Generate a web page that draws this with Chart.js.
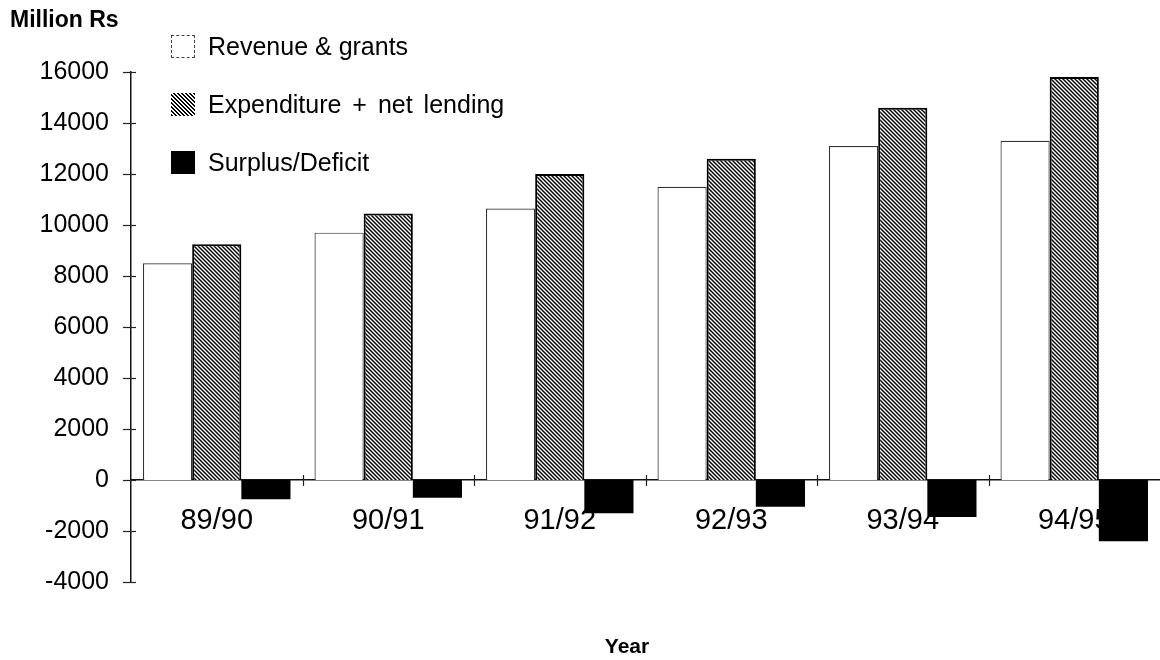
<!DOCTYPE html>
<html>
<head>
<meta charset="utf-8">
<script src="https://cdn.jsdelivr.net/npm/chart.js@4.4.1/dist/chart.umd.min.js"></script>
<style>
  html, body { margin: 0; padding: 0; background: #fff; overflow: hidden; }
  #wrap { position: relative; width: 1160px; height: 660px; }
  #c { position: absolute; left: 0; top: 0; }
  .txt { position: absolute; font-family: "Liberation Sans", Arial, sans-serif; color: #000; white-space: nowrap; }
  #unit { left: 10px; top: 5px; font-weight: bold; font-size: 23px; line-height: 28px; }
  #xtitle { left: 577px; width: 100px; text-align: center; top: 633px; font-weight: bold; font-size: 21px; line-height: 26px; }
  .lg-box { position: absolute; width: 24px; height: 23px; box-sizing: border-box; }
  .lg-txt { position: absolute; font-family: "Liberation Sans", Arial, sans-serif; font-size: 25px; line-height: 30px; white-space: nowrap; color: #000; }
</style>
</head>
<body>
<div id="wrap">
  <canvas id="c" width="1160" height="660"></canvas>
  <div class="txt" id="unit">Million Rs</div>
  <div class="txt" id="xtitle">Year</div>
  <div id="legend"></div>
</div>
<script>
// ---- data ----
const categories = ['89/90', '90/91', '91/92', '92/93', '93/94', '94/95'];
const revenueGrants = [8500, 9700, 10650, 11500, 13100, 13300];
const expenditureNetLending = [9250, 10450, 12000, 12600, 14600, 15800];
const surplusDeficit = [-750, -700, -1300, -1050, -1450, -2400];
const seriesNames = ['Revenue & grants', 'Expenditure + net lending', 'Surplus/Deficit'];
const yMin = -4000;
const yMax = 16000;
const yStep = 2000;

// ---- hatch pattern ----
function makeHatch() {
  const s = 4;
  const p = document.createElement('canvas');
  p.width = s; p.height = s;
  const g = p.getContext('2d');
  g.fillStyle = '#fff';
  g.fillRect(0, 0, s, s);
  g.strokeStyle = '#000';
  g.lineWidth = 1.45;
  for (let k = -1; k <= 1; k++) {
    g.beginPath();
    g.moveTo(-1, k * s - 1);
    g.lineTo(s + 1, s + k * s + 1);
    g.stroke();
  }
  return document.getElementById('c').getContext('2d').createPattern(p, 'repeat');
}
const hatch = makeHatch();

// ---- legend (HTML) ----
const legendStyles = [
  'background:#fff;border:1px dashed #444;',
  'background:repeating-linear-gradient(45deg,#000 0 1.45px,#fff 1.45px 2.85px);',
  'background:#000;'
];
const legendWordSpacing = [0, 4, 0];
const legendRowY = [46, 104, 162];
const lg = document.getElementById('legend');
seriesNames.forEach((name, i) => {
  const b = document.createElement('div');
  b.className = 'lg-box';
  b.style.cssText += 'left:171px;top:' + (legendRowY[i] - 11.5) + 'px;' + legendStyles[i];
  lg.appendChild(b);
  const t = document.createElement('div');
  t.className = 'lg-txt';
  t.style.left = '208px';
  t.style.top = (legendRowY[i] - 15) + 'px';
  t.style.wordSpacing = legendWordSpacing[i] + 'px';
  t.textContent = name;
  lg.appendChild(t);
});

// ---- crossing tick marks plugin ----
const crossTicks = {
  id: 'crossTicks',
  afterDraw(chart) {
    const ctx = chart.ctx;
    const x = chart.scales.x, y = chart.scales.y;
    ctx.save();
    ctx.strokeStyle = '#222';
    ctx.lineWidth = 1.2;
    y.ticks.forEach(t => {
      const py = Math.round(y.getPixelForValue(t.value)) + 0.5;
      ctx.beginPath();
      ctx.moveTo(y.right - 8, py);
      ctx.lineTo(y.right + 5, py);
      ctx.stroke();
    });
    const y0 = y.getPixelForValue(0);
    for (let i = 1; i < categories.length; i++) {
      const bx = Math.round((x.getPixelForValue(i - 1) + x.getPixelForValue(i)) / 2) + 0.5;
      ctx.beginPath();
      ctx.moveTo(bx, y0 - 5);
      ctx.lineTo(bx, y0 + 6);
      ctx.stroke();
    }
    ctx.restore();
  }
};

const FONT = '"Liberation Sans", Arial, sans-serif';

new Chart(document.getElementById('c'), {
  type: 'bar',
  data: {
    labels: categories,
    datasets: [
      {
        label: seriesNames[0],
        data: revenueGrants,
        backgroundColor: '#fff',
        borderColor: '#333',
        borderWidth: 1.2
      },
      {
        label: seriesNames[1],
        data: expenditureNetLending,
        backgroundColor: hatch,
        borderColor: '#000',
        borderWidth: 2
      },
      {
        label: seriesNames[2],
        data: surplusDeficit,
        backgroundColor: '#000',
        borderColor: '#000',
        borderWidth: 0
      }
    ]
  },
  options: {
    responsive: false,
    animation: false,
    devicePixelRatio: 1,
    layout: { padding: { left: 0, right: 0, top: 72, bottom: 78 } },
    datasets: { bar: { categoryPercentage: 0.86, barPercentage: 1.0, borderSkipped: 'start' } },
    plugins: {
      legend: { display: false },
      tooltip: { enabled: false },
      title: { display: false }
    },
    scales: {
      x: {
        position: { y: 0 },
        offset: true,
        grid: { display: false, drawTicks: false },
        border: { display: true, color: '#111', width: 1.5 },
        ticks: {
          color: '#000',
          padding: 24,
          maxRotation: 0,
          autoSkip: false,
          font: { family: FONT, size: 29 }
        },
        afterFit(s) { s.height = 0; }
      },
      y: {
        min: yMin,
        max: yMax,
        grid: { display: false, drawTicks: false },
        border: { display: true, color: '#111', width: 1.5 },
        ticks: {
          stepSize: yStep,
          color: '#000',
          padding: 22,
          font: { family: FONT, size: 25 },
          callback: v => String(v)
        },
        afterFit(s) { s.width = 131; }
      }
    }
  },
  plugins: [crossTicks]
});
</script>
</body>
</html>
